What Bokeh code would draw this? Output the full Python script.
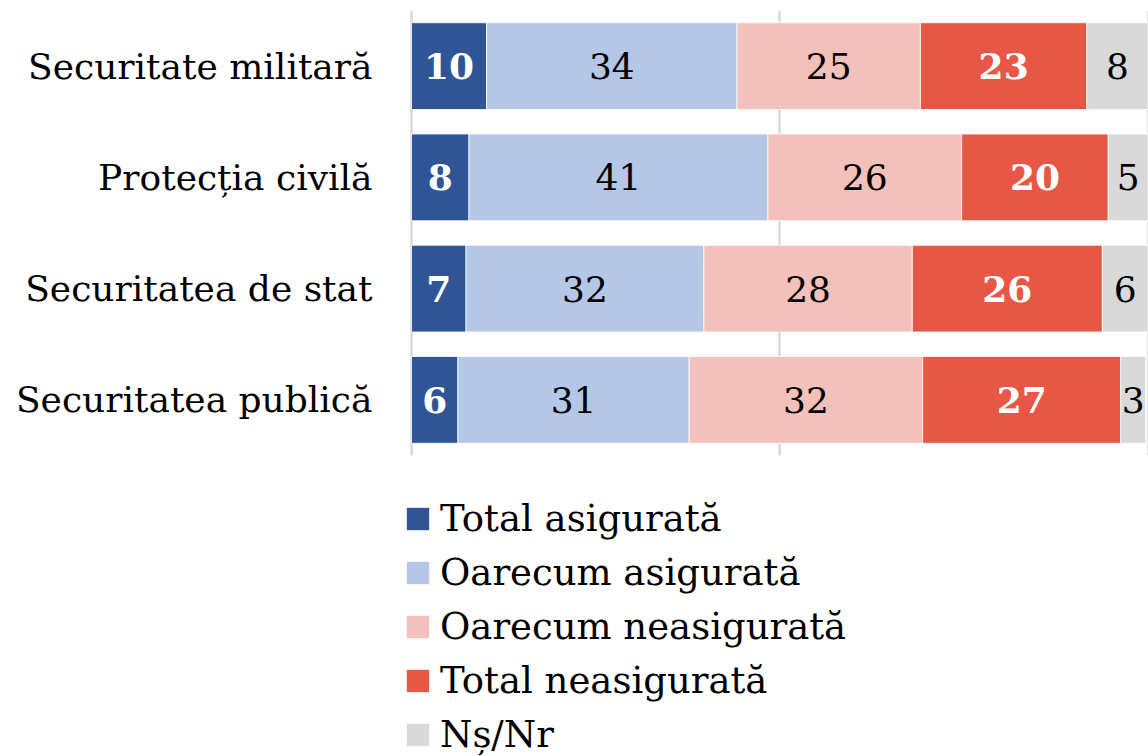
from bokeh.plotting import figure
from bokeh.models import Range1d, FixedTicker, Legend, LegendItem, ColumnDataSource
from bokeh.core.properties import value
from bokeh.embed import file_html
from bokeh.resources import INLINE

categories = ["Securitate militară", "Protecția civilă", "Securitatea de stat", "Securitatea publică"]
series_names = ["Total asigurată", "Oarecum asigurată", "Oarecum neasigurată", "Total neasigurată", "Nș/Nr"]

total_asigurata = [10.2, 7.8, 7.4, 6.3]
oarecum_asigurata = [34.0, 40.6, 32.3, 31.4]
oarecum_neasigurata = [24.9, 26.3, 28.3, 31.7]
total_neasigurata = [22.6, 19.9, 25.8, 26.9]
ns_nr = [8.3, 5.4, 6.2, 3.4]

labels_total_asigurata = ["10", "8", "7", "6"]
labels_oarecum_asigurata = ["34", "41", "32", "31"]
labels_oarecum_neasigurata = ["25", "26", "28", "32"]
labels_total_neasigurata = ["23", "20", "26", "27"]
labels_ns_nr = ["8", "5", "6", "3"]

colors = ["#2F5597", "#B4C7E7", "#F4C1BA", "#E85646", "#D9D9D9"]
label_colors = ["white", "black", "black", "white", "black"]
label_styles = ["bold", "normal", "normal", "bold", "normal"]

FONT = "DejaVu Serif"

series = [total_asigurata, oarecum_asigurata, oarecum_neasigurata, total_neasigurata, ns_nr]
series_labels = [labels_total_asigurata, labels_oarecum_asigurata, labels_oarecum_neasigurata,
                 labels_total_neasigurata, labels_ns_nr]

ypos = list(range(len(categories)))

# layout
W, H = 1148, 756
TOP, LEFT = 10, 406
UNIT_PX = 111.25            # pixels per category row
PX_PER_X = 7.365            # pixels per percentage point
frame_h = H - TOP
y_bottom = -0.5 + frame_h / UNIT_PX
x_start = -5 / PX_PER_X
x_end = x_start + (W - LEFT) / PX_PER_X

p = figure(width=W, height=H, output_backend="svg", toolbar_location=None,
           y_range=Range1d(y_bottom, -0.5), x_range=Range1d(x_start, x_end),
           min_border_left=LEFT, min_border_right=0, min_border_top=TOP, min_border_bottom=0)
p.outline_line_color = None
p.background_fill_color = "white"

renderers = []
left = [0.0] * len(categories)
for vals, labs, col, lc, ls in zip(series, series_labels, colors, label_colors, label_styles):
    right = [l + v for l, v in zip(left, vals)]
    mid = [(l + r) / 2 for l, r in zip(left, right)]
    src = ColumnDataSource(dict(y=ypos, left=left, right=right, mid=mid, lab=labs))
    r = p.hbar(y="y", left="left", right="right", height=0.78, source=src,
               fill_color=col, line_color="white", line_width=0.8)
    renderers.append(r)
    p.text(x="mid", y="y", text="lab", source=src, text_align="center", text_baseline="middle",
           text_font=value(FONT), text_font_size="36px", text_color=lc, text_font_style=ls)
    left = right

p.xaxis.visible = False
p.xaxis.ticker = FixedTicker(ticks=[0, 50, 100])
p.xgrid.ticker = FixedTicker(ticks=[0, 50, 100])
p.xgrid.grid_line_color = "#D9D9D9"
p.xgrid.grid_line_width = 2.5
p.xgrid.cross_bounds = (-0.5, len(categories) - 0.5)
p.ygrid.grid_line_color = None

p.yaxis.ticker = FixedTicker(ticks=ypos)
p.yaxis.major_label_overrides = {i: c for i, c in zip(ypos, categories)}
p.yaxis.axis_line_color = None
p.yaxis.major_tick_line_color = None
p.yaxis.minor_tick_line_color = None
p.yaxis.major_tick_out = 0
p.yaxis.major_tick_in = 0
p.yaxis.minor_tick_out = 0
p.yaxis.minor_tick_in = 0
p.yaxis.major_label_standoff = 34
p.yaxis.major_label_text_font = FONT
p.yaxis.major_label_text_font_size = "36px"
p.yaxis.major_label_text_color = "black"

legend = Legend(items=[LegendItem(label=n, renderers=[r]) for n, r in zip(series_names, renderers)],
                location=(-3, -5), orientation="vertical",
                glyph_width=29, glyph_height=29, label_height=54, spacing=0,
                label_standoff=8, padding=0, margin=0,
                label_text_font=FONT, label_text_font_size="37px", label_text_color="black",
                border_line_color=None, background_fill_alpha=0)
p.add_layout(legend)

open("out.html", "w").write(file_html(p, INLINE))
